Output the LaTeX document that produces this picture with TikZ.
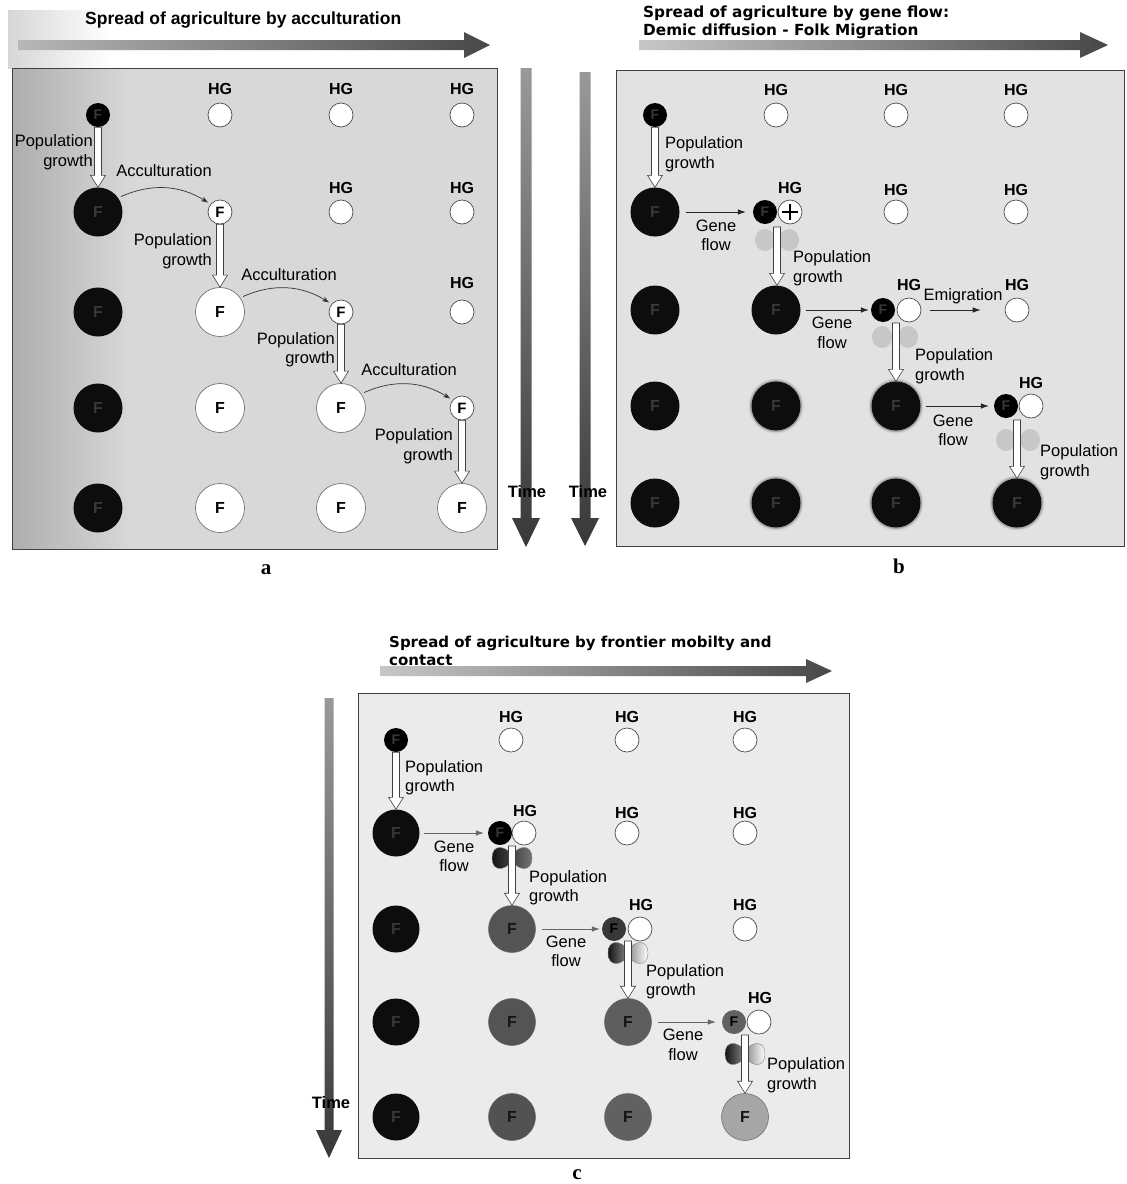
\documentclass[tikz,border=0pt]{standalone}
\usepackage{fontspec}
\setmainfont{Liberation Sans}
\newfontfamily\heavyfont{DejaVu Sans}
\newfontfamily\capfont{Liberation Serif}
\usetikzlibrary{arrows.meta,calc}
\newcommand{\labfont}{\fontsize{16.5}{19.5}\selectfont}
\definecolor{bga}{HTML}{D8D8D8}
\definecolor{bgb}{HTML}{E2E2E2}
\definecolor{bgc}{HTML}{EBEBEB}
\tikzset{
  sblack/.style={circle, fill=black, minimum size=24pt, inner sep=0pt, font=\bfseries\fontsize{14}{14}\selectfont, text=black!78},
  bblack/.style={circle, fill=black!95, minimum size=49pt, inner sep=0pt, font=\bfseries\fontsize{16}{16}\selectfont, text=black!78},
  bblur/.style={bblack, preaction={draw=black, line width=6pt, opacity=0.08}, preaction={draw=black, line width=3pt, opacity=0.2}},
  hgc/.style={circle, draw=black!70, line width=0.7pt, fill=white, minimum size=24pt, inner sep=0pt},
  swhite/.style={hgc, font=\bfseries\fontsize{15}{15}\selectfont},
  bwhite/.style={circle, draw=black!55, line width=0.7pt, fill=white, minimum size=49pt, inner sep=0pt, font=\bfseries\fontsize{16}{16}\selectfont},
  cgray/.style={circle, fill=#1, draw=black!60, line width=0.5pt, minimum size=47pt, inner sep=0pt, font=\bfseries\fontsize{16}{16}\selectfont, text=black!92},
  csmall/.style={circle, fill=#1, minimum size=24pt, inner sep=0pt, font=\bfseries\fontsize{14}{14}\selectfont, text=black},
  hglab/.style={font=\bfseries\fontsize{16}{16}\selectfont, inner sep=0pt},
  lab/.style={font=\labfont, inner sep=0pt},
  labr/.style={lab, align=right, anchor=east},
  labl/.style={lab, align=left, anchor=west},
  labc/.style={lab, align=center},
  hollow/.style={draw=black!75, fill=white, line width=0.6pt, line join=miter,
    to path={let \p1=(\tikztostart), \p2=(\tikztotarget) in
      (\x1-3.5pt,\y1) -- (\x1-3.5pt,\y2+12pt) -- (\x1-7.5pt,\y2+12pt) -- (\x1,\y2)
      -- (\x1+7.5pt,\y2+12pt) -- (\x1+3.5pt,\y2+12pt) -- (\x1+3.5pt,\y1) -- cycle}},
  acc/.style={line width=0.7pt, draw=black!80, -{Stealth[length=7pt,width=5pt]}, shorten <=3pt, shorten >=3pt},
  gene/.style={line width=0.7pt, draw=black!85, -{Latex[length=8pt,width=5.5pt]}},
  genec/.style={line width=0.7pt, draw=black!60, -{Latex[length=8pt,width=5.5pt]}},
  blob/.style={fill=black!22},
  timelab/.style={font=\bfseries\fontsize{16.5}{16.5}\selectfont, inner sep=0pt},
  panlab/.style={font=\capfont\bfseries\fontsize{21}{21}\selectfont, inner sep=0pt},
  pics/bowtie/.style 2 args={code={
    \shadedraw[left color=#1, right color=#2, draw=black!50, line width=0.4pt]
      (-20,0) .. controls (-20,-14) and (-7,-13) .. (0,-3) .. controls (7,-13) and (20,-14) .. (20,0)
      .. controls (20,14) and (7,13) .. (0,3) .. controls (-7,13) and (-20,14) .. (-20,0) -- cycle;}}
}
\begin{document}
\begin{tikzpicture}[x=1pt,y=-1pt]
\useasboundingbox (0,0) rectangle (1127,1184);
\fill[white] (0,0) rectangle (1127,1184);

% ---------------- backgrounds
\shade[left color=black!16, right color=white] (8,10) rectangle (110,68);
\fill[bga] (12,68) rectangle (497,549);
\shade[left color=black!32, right color=bga] (12,68) rectangle (130,549);
\draw[black!75, line width=0.8pt] (12,68) rectangle (497,549);
\fill[bgb] (616,70) rectangle (1124,546);
\draw[black!75, line width=0.8pt] (616,70) rectangle (1124,546);
\fill[bgc] (358,693) rectangle (849,1158);
\draw[black!75, line width=0.8pt] (358,693) rectangle (849,1158);

% ---------------- big arrows
\shade[left color=black!28, right color=black!72] (18,40) -- (464,40) -- (464,32) -- (490,45) -- (464,58) -- (464,50) -- (18,50) -- cycle;
\shade[left color=black!22, right color=black!72] (639,40) -- (1080,40) -- (1080,32) -- (1108,45) -- (1080,58) -- (1080,50) -- (639,50) -- cycle;
\shade[left color=black!22, right color=black!72] (380,666) -- (806,666) -- (806,659) -- (832,671) -- (806,683) -- (806,676) -- (380,676) -- cycle;
\shade[top color=black!40, bottom color=black!78] (520.5,68) -- (531.5,68) -- (531.5,518) -- (540,518) -- (526,547) -- (512,518) -- (520.5,518) -- cycle;
\shade[top color=black!40, bottom color=black!78] (579.5,72) -- (590.5,72) -- (590.5,518) -- (599,518) -- (585,546) -- (571,518) -- (579.5,518) -- cycle;
\shade[top color=black!40, bottom color=black!78] (324.5,698) -- (333.5,698) -- (333.5,1130) -- (342,1130) -- (329,1158) -- (316,1130) -- (324.5,1130) -- cycle;

% ---------------- titles
\node[anchor=west, font=\bfseries\fontsize{17.5}{20}\selectfont, inner sep=0pt] (ta) at (85,20) {Spread of agriculture by acculturation};
\node[anchor=west, align=left, font=\heavyfont\bfseries\fontsize{15.3}{18}\selectfont, inner sep=0pt] (tb) at (643,22) {Spread of agriculture by gene flow:\\Demic diffusion - Folk Migration};
\node[anchor=west, align=left, font=\heavyfont\bfseries\fontsize{15}{18}\selectfont, inner sep=0pt] (tc) at (389,651) {Spread of agriculture by frontier mobilty and\\contact};

% ================= PANEL A
\node[sblack] (a11) at (98,115) {F};
\foreach \c/\x in {2/220,3/341,4/462} {
  \node[hgc] (a1\c) at (\x,115) {};
  \node[hglab] (ha1\c) at (\x,89) {HG};
}
\node[bblack] (a21) at (98,212) {F};
\node[swhite] (a22) at (220,212) {F};
\foreach \c/\x in {3/341,4/462} {
  \node[hgc] (a2\c) at (\x,212) {};
  \node[hglab] (ha2\c) at (\x,188) {HG};
}
\node[bblack] (a31) at (98,312) {F};
\node[bwhite] (a32) at (220,312) {F};
\node[swhite] (a33) at (341,312) {F};
\node[hgc] (a34) at (462,312) {};
\node[hglab] (ha34) at (462,283) {HG};
\node[bblack] (a41) at (98,408) {F};
\node[bwhite] (a42) at (220,408) {F};
\node[bwhite] (a43) at (341,408) {F};
\node[swhite] (a44) at (462,408) {F};
\node[bblack] (a51) at (98,508) {F};
\node[bwhite] (a52) at (220,508) {F};
\node[bwhite] (a53) at (341,508) {F};
\node[bwhite] (a54) at (462,508) {F};

\draw[hollow] (a11.south) to (a21.north);
\node[labr] (pa1) at (93,152) {Population\\growth};
\draw[acc] (a21.35) to[bend left=28] (a22.140);
\node[lab] (ac1) at (164,171) {Acculturation};
\draw[hollow] (a22.south) to (a32.north);
\node[labr] (pa2) at (212,251) {Population\\growth};
\draw[acc] (a32.35) to[bend left=28] (a33.140);
\node[lab] (ac2) at (289,275) {Acculturation};
\draw[hollow] (a33.south) to (a43.north);
\node[labr] (pa3) at (335,349.5) {Population\\growth};
\draw[acc] (a43.35) to[bend left=28] (a44.140);
\node[lab] (ac3) at (409,370) {Acculturation};
\draw[hollow] (a44.south) to (a54.north);
\node[labr] (pa4) at (453,446) {Population\\growth};

\node[timelab] (tma) at (527,492) {Time};
\node[panlab] (la) at (266,570) {a};

% ================= PANEL B
\node[sblack] (b11) at (655,115) {F};
\foreach \c/\x in {2/776,3/896,4/1016} {
  \node[hgc] (b1\c) at (\x,115) {};
  \node[hglab] (hb1\c) at (\x,90) {HG};
}
\node[bblack] (b21) at (655,212) {F};
\node[sblack] (b22f) at (765,212) {F};
\node[hgc] (b22h) at (790,212) {};
\draw[line width=1.1pt] ([xshift=-8pt]b22h.center) -- ([xshift=8pt]b22h.center);
\draw[line width=1.1pt] ([yshift=-8pt]b22h.center) -- ([yshift=8pt]b22h.center);
\node[hglab] (hb22) at (790,188) {HG};
\foreach \c/\x in {3/896,4/1016} {
  \node[hgc] (b2\c) at (\x,212) {};
  \node[hglab] (hb2\c) at (\x,190) {HG};
}
\node[bblack] (b31) at (655,310) {F};
\node[bblack] (b32) at (776,310) {F};
\node[sblack] (b33f) at (883,310) {F};
\node[hgc] (b33h) at (909,310) {};
\node[hglab] (hb33) at (909,285) {HG};
\node[hgc] (b34) at (1017,310) {};
\node[hglab] (hb34) at (1017,285) {HG};
\node[bblack] (b41) at (655,406) {F};
\node[bblur] (b42) at (776,406) {F};
\node[bblur] (b43) at (896,406) {F};
\node[sblack] (b44f) at (1006,406) {F};
\node[hgc] (b44h) at (1031,406) {};
\node[hglab] (hb44) at (1031,383) {HG};
\node[bblack] (b51) at (655,503) {F};
\node[bblur] (b52) at (776,503) {F};
\node[bblur] (b53) at (896,503) {F};
\node[bblur] (b54) at (1017,503) {F};

\draw[hollow] (b11.south) to (b21.north);
\node[labl] (pb1) at (665,154) {Population\\growth};
\draw[gene, shorten <=6pt, shorten >=7pt] (b21) -- (b22f);
\node[labc] (gb2) at (716,235.5) {Gene\\flow};
\fill[blob] (765,240) ellipse (10 and 11);
\fill[blob] (789,240) ellipse (10 and 11);
\coordinate (b2s) at (777,227);
\draw[hollow] (b2s) to (b32.north);
\node[labl] (pb2) at (793,268) {Population\\growth};

\draw[gene, shorten <=5pt, shorten >=2pt] (b32) -- (b33f);
\node[labc] (gb3) at (832,333) {Gene\\flow};
\draw[gene, shorten <=9pt, shorten >=24pt] (b33h) -- (b34);
\node[lab] (em) at (963,296) {Emigration};
\fill[blob] (882,337) ellipse (10 and 11);
\fill[blob] (908,337) ellipse (10 and 11);
\coordinate (b3s) at (896,323);
\draw[hollow] (b3s) to (b43.north);
\node[labl] (pb3) at (915,366) {Population\\growth};

\draw[gene, shorten <=5pt, shorten >=5pt] (b43) -- (b44f);
\node[labc] (gb4) at (953,430.5) {Gene\\flow};
\fill[blob] (1006,440) ellipse (10 and 11);
\fill[blob] (1030,440) ellipse (10 and 11);
\coordinate (b4s) at (1017,420);
\draw[hollow] (b4s) to (b54.north);
\node[labl] (pb4) at (1040,462) {Population\\growth};

\node[timelab] (tmb) at (588,492) {Time};
\node[panlab] (lb) at (899,566) {b};

% ================= PANEL C
\node[sblack] (c11) at (396,740) {F};
\foreach \c/\x in {2/511,3/627,4/745} {
  \node[hgc] (c1\c) at (\x,740) {};
  \node[hglab] (hc1\c) at (\x,717) {HG};
}
\node[bblack, minimum size=47pt] (c21) at (396,833) {F};
\node[sblack] (c22f) at (500,833) {F};
\node[hgc] (c22h) at (524,833) {};
\node[hglab] (hc22) at (525,811) {HG};
\foreach \c/\x in {3/627,4/745} {
  \node[hgc] (c2\c) at (\x,833) {};
  \node[hglab] (hc2\c) at (\x,813) {HG};
}
\node[bblack, minimum size=47pt] (c31) at (396,929) {F};
\node[cgray=black!67] (c32) at (512,929) {F};
\node[csmall=black!78] (c33f) at (614,929) {F};
\node[hgc] (c33h) at (640,929) {};
\node[hglab] (hc33) at (641,905) {HG};
\node[hgc] (c34) at (745,929) {};
\node[hglab] (hc34) at (745,905) {HG};
\node[bblack, minimum size=47pt] (c41) at (396,1022) {F};
\node[cgray=black!67] (c42) at (512,1022) {F};
\node[cgray=black!63] (c43) at (628,1022) {F};
\node[csmall=black!62] (c44f) at (734,1022) {F};
\node[hgc] (c44h) at (759,1022) {};
\node[hglab] (hc44) at (760,998) {HG};
\node[bblack, minimum size=47pt] (c51) at (396,1117) {F};
\node[cgray=black!68] (c52) at (512,1117) {F};
\node[cgray=black!62] (c53) at (628,1117) {F};
\node[cgray=black!35] (c54) at (745,1117) {F};

\draw[hollow] (c11.south) to (c21.north);
\node[labl] (pc1) at (405,777.5) {Population\\growth};
\draw[genec, shorten <=4pt, shorten >=4pt] (c21) -- (c22f);
\node[labc] (gc2) at (454,856.5) {Gene\\flow};
\pic at (512,858) {bowtie={black!92}{black!55}};
\coordinate (c2s) at (512,846);
\draw[hollow] (c2s) to (c32.north);
\node[labl] (pc2) at (529,887.5) {Population\\growth};

\draw[genec, shorten <=6pt, shorten >=2pt] (c32) -- (c33f);
\node[labc] (gc3) at (566,951.5) {Gene\\flow};
\pic at (628,953) {bowtie={black!92}{white}};
\coordinate (c3s) at (628,941);
\draw[hollow] (c3s) to (c43.north);
\node[labl] (pc3) at (646,981.5) {Population\\growth};

\draw[genec, shorten <=6pt, shorten >=6pt] (c43) -- (c44f);
\node[labc] (gc4) at (683,1045) {Gene\\flow};
\pic at (745,1054) {bowtie={black!92}{white}};
\coordinate (c4s) at (745,1035);
\draw[hollow] (c4s) to (c54.north);
\node[labl] (pc4) at (767,1075) {Population\\growth};

\node[timelab] (tmc) at (331,1103) {Time};
\node[panlab] (lc) at (577,1175) {c};
\end{tikzpicture}
\end{document}
